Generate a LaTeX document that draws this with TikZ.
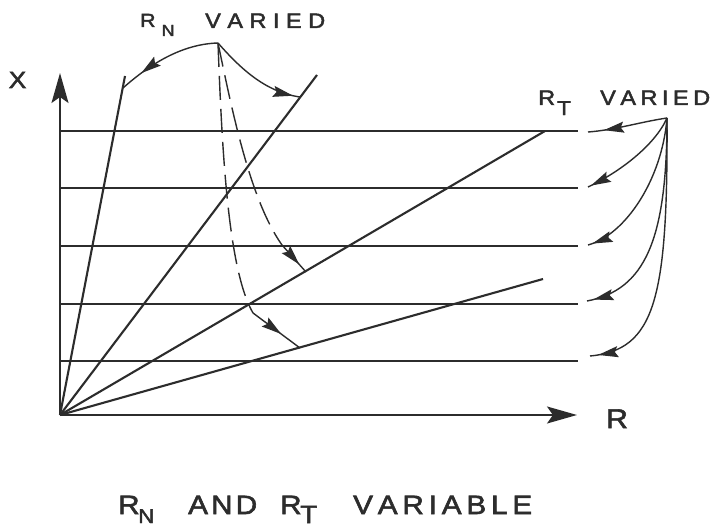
\documentclass[tikz,border=0pt]{standalone}
\usepackage{fontspec}
\setmainfont{Liberation Sans}[FakeStretch=1.12,FakeBold=2.2]
\usetikzlibrary{arrows.meta,decorations.markings}
\definecolor{ink}{RGB}{44,44,44}
\newcommand\subtxt[3]{\raisebox{-#3}{\fontsize{#1}{#1}\selectfont #2}}
\newcommand\spread[2]{\makebox[#1][s]{#2}}
\tikzset{
  axisline/.style={line width=2pt, color=ink, -{Stealth[length=30pt,width=17pt,inset=6pt]}},
  hline/.style={line width=1.6pt, color=ink},
  ray/.style={line width=2.1pt, color=ink},
  carrow/.style={line width=1.4pt, color=ink},
  headat/.style={postaction=decorate, decoration={markings, mark=at position #1 with {\arrow{Stealth[length=20pt,width=11pt,inset=3pt]}}}},
  dashcurve/.style={line width=1.4pt, color=ink, dash pattern=on 24pt off 9pt},
  lbl/.style={inner sep=0pt, text=ink, anchor=base west},
}
\begin{document}
\begin{tikzpicture}[x=1pt,y=-1pt]
\useasboundingbox[fill=white] (0,0) rectangle (713,527);
% coordinates
\coordinate (O) at (60,415);
\coordinate (ytip) at (60,73);
\coordinate (xtip) at (577,415);
\foreach \i/\y in {1/131,2/188,3/246,4/304,5/361}{
  \coordinate (h\i l) at (60,\y);
  \coordinate (h\i r) at (578,\y);
}
\coordinate (r1) at (125,76);
\coordinate (r2) at (317,75);
\coordinate (r3) at (545,131);
\coordinate (r4) at (543,279);
\coordinate (apexN) at (218,43);
\coordinate (nL) at (123,88);
\coordinate (nR) at (300,97);
\coordinate (dB) at (282,245);
\coordinate (dBend) at (306,272);
\coordinate (dA) at (253,313);
\coordinate (dAend) at (300,348);
\coordinate (apexT) at (667,118);
\coordinate (t1) at (588,132);
\coordinate (t2) at (588,187);
\coordinate (t3) at (588,245);
\coordinate (t4) at (587,301);
\coordinate (t5) at (590,356);
% horizontal lines
\foreach \i in {1,...,5}{ \draw[hline] (h\i l) -- (h\i r); }
% rays
\foreach \r in {r1,r2,r3,r4}{ \draw[ray] (O) -- (\r); }
% axes
\draw[axisline] (O) -- (ytip);
\draw[axisline] (O) -- (xtip);
% R_N arrows
\draw[carrow, headat=0.78] (apexN) .. controls (182,44) and (150,64) .. (nL);
\draw[carrow, headat=0.93] (apexN) .. controls (240,68) and (265,92) .. (nR);
\draw[dashcurve] (apexN) .. controls (232,110) and (250,200) .. (dB);
\draw[carrow, headat=0.72] (dB) -- (dBend);
\draw[dashcurve] (apexN) .. controls (222,150) and (228,270) .. (dA);
\draw[carrow, headat=0.6] (dA) -- (dAend);
% R_T arrows
\draw[carrow, headat=0.8] (apexT) .. controls (640,122) and (615,130) .. (t1);
\draw[carrow, headat=0.97] (apexT) .. controls (655,145) and (620,172) .. (t2);
\draw[carrow, headat=0.97] (apexT) .. controls (662,180) and (625,235) .. (t3);
\draw[carrow, headat=0.97] (apexT) .. controls (667,240) and (645,290) .. (t4);
\draw[carrow, headat=0.97] (apexT) .. controls (668,300) and (655,350) .. (t5);
% labels
\node[inner sep=0pt, text=ink, anchor=base, font=\fontsize{23.5}{23.5}\selectfont] (xlab) at (17.5,88) {X};
\node[inner sep=0pt, text=ink, anchor=base, font=\fontsize{27}{27}\selectfont] (rlab) at (617,428) {R};
\node[lbl, font=\fontsize{19}{19}\selectfont] (rnlab) at (140,27)
  {\makebox[21.5pt][l]{R}\makebox[43.5pt][l]{\subtxt{16pt}{N}{9pt}}{\fontsize{21}{21}\selectfont\raisebox{-1pt}{\spread{120pt}{V\hfill A\hfill R\hfill I\hfill E\hfill D}}}};
\node[lbl, font=\fontsize{21}{21}\selectfont] (rtlab) at (538,105)
  {\makebox[19pt][l]{R}\makebox[43pt][l]{\subtxt{20pt}{T}{10pt}}\spread{110pt}{V\hfill A\hfill R\hfill I\hfill E\hfill D}};
\node[lbl, font=\fontsize{26.5}{26.5}\selectfont] (title) at (118,514)
  {\makebox[20pt][l]{R}\makebox[50pt][l]{\subtxt{20pt}{N}{9pt}}\makebox[92pt][l]{\spread{69pt}{A\hfill N\hfill D}}\makebox[20pt][l]{R}\makebox[53pt][l]{\subtxt{25pt}{T}{9pt}}\spread{179pt}{V\hfill A\hfill R\hfill I\hfill A\hfill B\hfill L\hfill E}};
\end{tikzpicture}
\end{document}
